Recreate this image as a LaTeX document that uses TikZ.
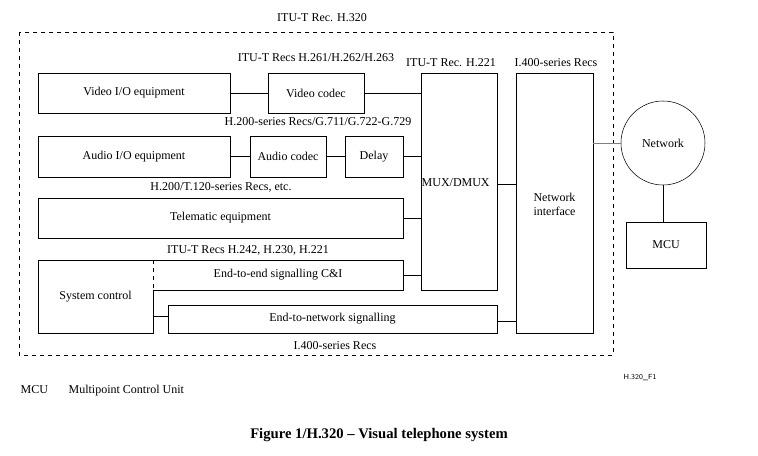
\documentclass[tikz,border=0pt]{standalone}
\usepackage{fontspec}
\setmainfont{Liberation Serif}
\begin{document}
\begin{tikzpicture}[x=0.75pt,y=-0.75pt,
    box/.style={draw, thin, font=\fontsize{9}{10.5}\selectfont, align=center, inner sep=0pt},
    lbl/.style={font=\fontsize{9}{10.5}\selectfont, inner sep=1pt}]
        \useasboundingbox (0,0) rectangle (758,456);
        \draw[dashed] (19,32) rectangle (613,355);
        \node[lbl] (h320) at (322,18) {ITU-T Rec. H.320};

        \node[box, minimum width=144pt, minimum height=30pt] (vio) at (134,93) {Video I/O equipment};
        \node[box, minimum width=72pt, minimum height=30pt] (vcodec) at (316,93) {Video codec};
        \node[box, minimum width=144pt, minimum height=30.75pt] (aio) at (134,156.5) {Audio I/O equipment};
        \node[box, minimum width=57pt, minimum height=30.75pt] (acodec) at (288,156.5) {Audio codec};
        \node[box, minimum width=43.5pt, minimum height=30.75pt] (delay) at (374,156.5) {Delay};
        \node[box, minimum width=273.75pt, minimum height=30pt] (tele) at (220.5,218) {Telematic equipment};
        \node[box, minimum width=57pt, minimum height=162.75pt] (mux) at (459,181.5) {};
        \node[lbl, anchor=west, inner sep=0.5pt] at (mux.west |- 0,183) {MUX/DMUX};
        \node[box, minimum width=57.75pt, minimum height=195pt] (netif) at (554.5,203) {};
        \node[lbl, align=center] at (554.5,204) {Network\\interface};
        \node[box, minimum width=246.75pt, minimum height=21pt] (e2n) at (332.5,319) {End-to-network signalling};

        % system control with dashed upper right edge
        \draw[thin] (153,290) -- (153,333) -- (38,333) -- (38,260) -- (403,260) -- (403,290) -- (153,290);
        \draw[thin, dashed] (153,260) -- (153,290);
        \coordinate (sysr) at (153,316);
        \coordinate (e2e) at (403,275);
        \node[lbl] (sys) at (95.5,297) {System control};
        \node[lbl] (e2etext) at (278,275) {End-to-end signalling C\&I};

        \draw (vio) -- (vcodec);
        \draw (vcodec) -- (vcodec -| mux.west);
        \draw (aio) -- (acodec);
        \draw (acodec) -- (delay);
        \draw (delay) -- (delay -| mux.west);
        \draw (tele) -- (tele -| mux.west);
        \draw (e2e) -- (e2e -| mux.west);
        \draw (sysr) -- (sysr -| e2n.west);
        \draw (e2n.east |- 0,321) -- (netif.west |- 0,321);
        \draw (mux.east |- 0,184) -- (netif.west |- 0,184);

        \node[lbl] at (316,58) {ITU-T Recs H.261/H.262/H.263};
        \node[lbl] at (451,63) {ITU-T Rec. H.221};
        \node[lbl] at (556,63) {I.400-series Recs};
        \node[lbl] at (318,122) {H.200-series Recs/G.711/G.722-G.729};
        \node[lbl] at (221,187) {H.200/T.120-series Recs, etc.};
        \node[lbl] at (248,250) {ITU-T Recs H.242, H.230, H.221};
        \node[lbl] at (335,346) {I.400-series Recs};

        \node[draw, circle, minimum size=63pt, inner sep=0pt, font=\fontsize{9}{10.5}\selectfont] (net) at (663,143) {Network};
        \node[box, minimum width=60pt, minimum height=34.5pt] (mcu) at (666,245) {MCU};
        \draw[gray] (netif.east |- net) -- (net);
        \draw (net) -- (net |- mcu.north);

        \node[lbl, anchor=base west] at (19,393) {MCU};
        \node[lbl, anchor=base west] at (67,393) {Multipoint Control Unit};
        \node[font=\sffamily\fontsize{5.5}{6}\selectfont] at (640,378) {H.320\_F1};
        \node[font=\bfseries\fontsize{11}{12}\selectfont] (cap) at (379,435) {Figure 1/H.320 -- Visual telephone system};
    \end{tikzpicture}
\end{document}
